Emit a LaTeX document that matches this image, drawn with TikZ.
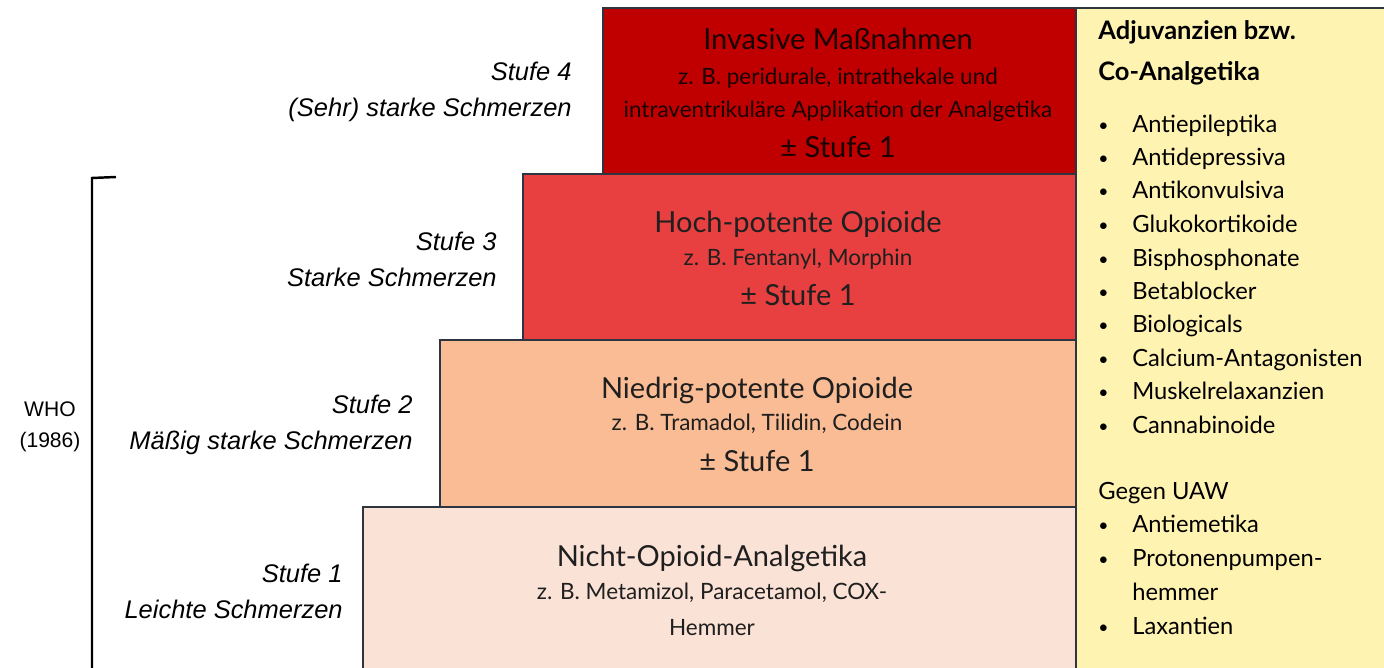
\documentclass[tikz,border=0pt]{standalone}
\usepackage{fontspec}
\setmainfont{Lato}
\newfontfamily\arialfont{Liberation Sans}
\usetikzlibrary{positioning}
\definecolor{stufeVier}{HTML}{C00000}
\definecolor{stufeDrei}{HTML}{E84040}
\definecolor{stufeZwei}{HTML}{F9BC94}
\definecolor{stufeEins}{HTML}{FBE2D6}
\definecolor{adjuvgelb}{HTML}{FFF3B2}
\definecolor{boxline}{HTML}{2E3540}

\begin{document}
\begin{tikzpicture}[x=0.02cm,y=-0.02cm]
\tikzset{stufebox/.style={rectangle,draw=boxline,line width=0.9pt,anchor=north west,inner sep=0pt},
titel/.style={anchor=base,inner sep=0pt,text=black!88,font=\fontsize{16.5}{18}\selectfont},
beispiel/.style={anchor=base,inner sep=0pt,text=black!88,font=\fontsize{12.8}{14}\selectfont},
stufelabel/.style={anchor=east,align=right,inner sep=0pt,font=\arialfont\itshape\fontsize{14.5}{20.4}\selectfont},
eintrag/.style={anchor=base west,inner sep=0pt,font=\fontsize{13.5}{16}\selectfont},
punkt/.style={anchor=base west,inner sep=0pt,font=\fontsize{10}{12}\selectfont}}
\useasboundingbox (0,0) rectangle (1384,668);
\clip (0,0) rectangle (1384,668);
\fill[white] (0,0) rectangle (1384,668);

% Stufen
\node[stufebox,fill=stufeEins,minimum width=14.26cm,minimum height=4cm](s1) at (362,506){};
\node[stufebox,fill=stufeZwei,minimum width=12.72cm,minimum height=3.34cm](s2) at (439,339){};
\node[stufebox,fill=stufeDrei,minimum width=11.06cm,minimum height=3.32cm](s3) at (522,173){};
\node[stufebox,fill=stufeVier,minimum width=9.46cm,minimum height=3.32cm](s4) at (602,7){};
\node[stufebox,fill=adjuvgelb,minimum width=6.6cm,minimum height=14cm](adj) at (1075,7){};

% Texte in den Stufen
\node[titel,text=black!90!red](t4) at (838,50){Invasive Maßnahmen};
\node[beispiel,text=black!90!red](b4a) at (838,85){z. B. peridurale, intrathekale und};
\node[beispiel,text=black!90!red](b4b) at (838,118){intraventrikuläre Applikation der Analgetika};
\node[titel,text=black!90!red](p4) at (838,158){± Stufe 1};

\node[titel](t3) at (798,233){Hoch-potente Opioide};
\node[beispiel](b3) at (798,266){z. B. Fentanyl, Morphin};
\node[titel](p3) at (798,306){± Stufe 1};

\node[titel](t2) at (757,399){Niedrig-potente Opioide};
\node[beispiel](b2) at (757,431){z. B. Tramadol, Tilidin, Codein};
\node[titel](p2) at (757,472){± Stufe 1};

\node[titel](t1) at (712,567){Nicht-Opioid-Analgetika};
\node[beispiel](b1a) at (712,600){z. B. Metamizol, Paracetamol, COX-};
\node[beispiel](b1b) at (712,636){Hemmer};

% Beschriftung links
\node[stufelabel](l4) at (572,92){Stufe 4\\(Sehr) starke Schmerzen};
\node[stufelabel](l3) at (497,259){Stufe 3\\Starke Schmerzen};
\node[stufelabel](l2) at (413,425){Stufe 2\\Mäßig starke Schmerzen};
\node[stufelabel](l1) at (343,591){Stufe 1\\Leichte Schmerzen};

\node[align=center,inner sep=0pt,font=\arialfont\fontsize{12}{18}\selectfont](who) at (50,427){WHO\\(1986)};
\coordinate (klTop) at (116,177);
\coordinate (klBot) at (92,690);
\draw[line width=1.4pt] (klTop) -- (92,178) -- (klBot);

% Adjuvanzien
\node[eintrag,font=\bfseries\fontsize{14.5}{16}\selectfont](adjkopf1) at (1098,40){Adjuvanzien bzw.};
\node[eintrag,font=\bfseries\fontsize{14.5}{16}\selectfont](adjkopf2) at (1098,81){Co-Analgetika};
\foreach \y/\txt in {133/Antiepileptika,166/Antidepressiva,199/Antikonvulsiva,233/Glukokortikoide,267/Bisphosphonate,300/Betablocker,333/Biologicals,367/Calcium-Antagonisten,400/Muskelrelaxanzien,434/Cannabinoide,533/Antiemetika,567/Protonenpumpen-,635/Laxantien}{
\node[punkt](pkt\y) at (1098,\y-1){\textbullet};
\node[eintrag](item\y) at (1132,\y){\txt};
}
\node[eintrag](item601) at (1132,601){hemmer};
\node[eintrag](uaw) at (1098,500){Gegen UAW};
\end{tikzpicture}
\end{document}
